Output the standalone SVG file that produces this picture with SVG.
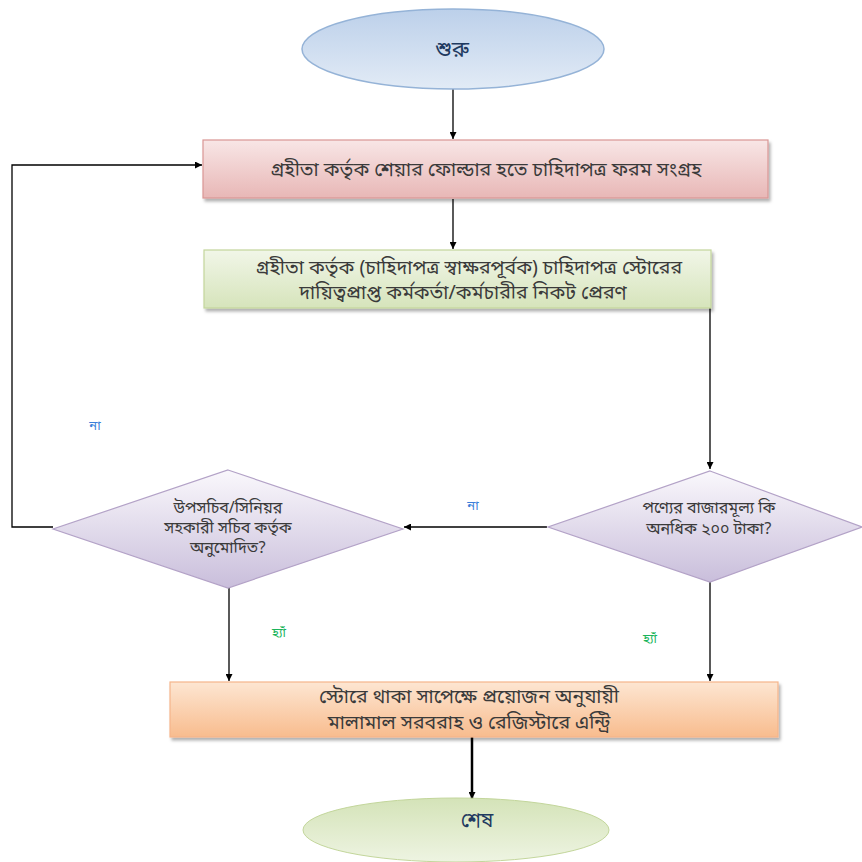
<svg xmlns="http://www.w3.org/2000/svg" width="862" height="862" viewBox="0 0 862 862">
<style>
.t{font-family:"Noto Sans Bengali","Noto Sans","DejaVu Sans",sans-serif;font-size:19.5px;fill:#3a3a3a;text-anchor:middle}
.d{font-size:16px}
.ln{fill:none;stroke:#000;stroke-width:1.3}
.lbn{font-family:"Noto Sans Bengali","Noto Sans",sans-serif;font-size:13px;fill:#3b7fd9;text-anchor:middle}
.lby{font-family:"Noto Sans Bengali","Noto Sans",sans-serif;font-size:13px;fill:#19b45a;text-anchor:middle}
</style>
<defs>
<linearGradient id="gBlue" x1="0" y1="0" x2="0" y2="1"><stop offset="0" stop-color="#bcd0ea"/><stop offset="1" stop-color="#e2ebf6"/></linearGradient>
<linearGradient id="gPink" x1="0" y1="0" x2="0" y2="1"><stop offset="0" stop-color="#f8e6e6"/><stop offset="1" stop-color="#e8b7b6"/></linearGradient>
<linearGradient id="gGreen" x1="0" y1="0" x2="0" y2="1"><stop offset="0" stop-color="#f1f6e8"/><stop offset="1" stop-color="#d6e4bb"/></linearGradient>
<linearGradient id="gLav" x1="0" y1="0" x2="0" y2="1"><stop offset="0" stop-color="#faf8fc"/><stop offset="1" stop-color="#c9bedb"/></linearGradient>
<linearGradient id="gOr" x1="0" y1="0" x2="0" y2="1"><stop offset="0" stop-color="#fde6d2"/><stop offset="1" stop-color="#f8bc8e"/></linearGradient>
<linearGradient id="gEnd" x1="0" y1="0" x2="0" y2="1"><stop offset="0" stop-color="#d4e3b8"/><stop offset="1" stop-color="#eef4e2"/></linearGradient>
<filter id="sh" x="-5%" y="-10%" width="110%" height="130%"><feDropShadow dx="2" dy="3" stdDeviation="1.5" flood-color="#000" flood-opacity="0.3"/></filter>
<marker id="ar" viewBox="0 0 10 10" refX="10" refY="5" markerWidth="7" markerHeight="7" orient="auto" markerUnits="userSpaceOnUse"><path d="M0,0 L10,5 L0,10 z" fill="#000"/></marker>
</defs>
<g id="connectors">
<line class="ln" x1="453" y1="89" x2="453" y2="139" marker-end="url(#ar)"/>
<line class="ln" x1="453" y1="199" x2="453" y2="249" marker-end="url(#ar)"/>
<polyline class="ln" points="710,308 710,469" marker-end="url(#ar)"/>
<line class="ln" x1="547" y1="527" x2="404" y2="527" marker-end="url(#ar)"/>
<polyline class="ln" points="53,527 12,527 12,165 202,165" marker-end="url(#ar)"/>
<line class="ln" x1="229" y1="588" x2="229" y2="681" marker-end="url(#ar)"/>
<line class="ln" x1="710" y1="582" x2="710" y2="681" marker-end="url(#ar)"/>
<line x1="472" y1="737" x2="472" y2="799" stroke="#000" stroke-width="2.5" marker-end="url(#ar)"/>
<text class="lbn" x="95" y="430">না</text>
<text class="lbn" x="473" y="510">না</text>
<text class="lby" x="279" y="637">হ্যাঁ</text>
<text class="lby" x="650" y="643">হ্যাঁ</text>
</g>
<g id="start">
<ellipse cx="453" cy="49" rx="151" ry="40" fill="url(#gBlue)" stroke="#95b3d7" stroke-width="1.5"/>
<text class="t" x="452" y="57" style="font-size:22px;fill:#1f3a60">শুরু</text>
</g>
<g id="box1">
<rect x="203" y="140" width="565" height="58" fill="url(#gPink)" stroke="#d99694" stroke-width="1.2" filter="url(#sh)"/>
<text class="t" x="486" y="176">গ্রহীতা কর্তৃক শেয়ার ফোল্ডার হতে চাহিদাপত্র ফরম সংগ্রহ</text>
</g>
<g id="box2">
<rect x="204" y="250" width="507" height="58" fill="url(#gGreen)" stroke="#c3d69b" stroke-width="1.2" filter="url(#sh)"/>
<text class="t" x="469" y="274">গ্রহীতা কর্তৃক (চাহিদাপত্র স্বাক্ষরপূর্বক) চাহিদাপত্র স্টোরের</text>
<text class="t" x="463" y="299">দায়িত্বপ্রাপ্ত কর্মকর্তা/কর্মচারীর নিকট প্রেরণ</text>
</g>
<g id="decision1">
<polygon points="710,471 862,527 710,582 548,527" fill="url(#gLav)" stroke="#b3a2c7" stroke-width="1.2"/>
<text class="t d" x="709" y="513">পণ্যের বাজারমূল্য কি</text>
<text class="t d" x="709" y="534">অনধিক ২০০ টাকা?</text>
</g>
<g id="decision2">
<polygon points="228,470 403,529 228,588 53,529" fill="url(#gLav)" stroke="#b3a2c7" stroke-width="1.2"/>
<text class="t d" x="228" y="513">উপসচিব/সিনিয়র</text>
<text class="t d" x="228" y="533">সহকারী সচিব কর্তৃক</text>
<text class="t d" x="228" y="553">অনুমোদিত?</text>
</g>
<g id="box3">
<rect x="170" y="682" width="608" height="55" fill="url(#gOr)" stroke="#f5b58a" stroke-width="1.2" filter="url(#sh)"/>
<text class="t" x="469" y="703">স্টোরে থাকা সাপেক্ষে প্রয়োজন অনুযায়ী</text>
<text class="t" x="469" y="729">মালামাল সরবরাহ ও রেজিস্টারে এন্ট্রি</text>
</g>
<g id="end">
<ellipse cx="456" cy="830" rx="153" ry="32" fill="url(#gEnd)" stroke="#c3d69b" stroke-width="1"/>
<text class="t" x="477" y="827" style="font-size:20px;fill:#1f3a60">শেষ</text>
</g>
</svg>
